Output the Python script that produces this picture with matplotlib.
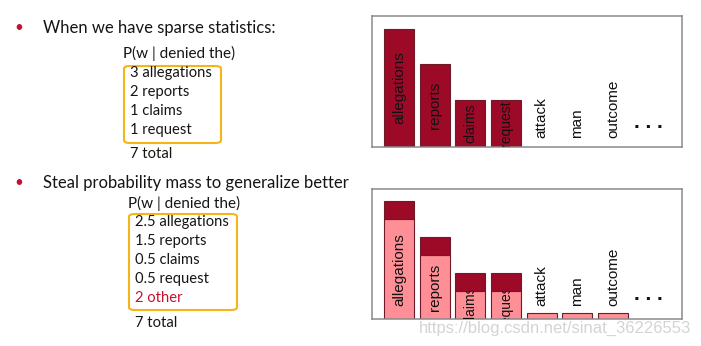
import matplotlib.pyplot as plt
from matplotlib.patches import FancyBboxPatch
from matplotlib.transforms import TransformedBbox

# ── data ─────────────────────────────────────────────────────────────────────
words = ["allegations", "reports", "claims", "request", "attack", "man", "outcome"]
seen_counts = [3, 2, 1, 1]             # P(w | denied the), sparse statistics
smoothed_counts = [2.5, 1.5, 0.5, 0.5]  # after stealing probability mass
other_share = 0.17                      # tiny share each unseen word receives
top_lines = ["3 allegations", "2 reports", "1 claims", "1 request"]
bottom_lines = ["2.5 allegations", "1.5 reports", "0.5 claims", "0.5 request"]
other_line = "2 other"
total_line = "7 total"
cond_label = "P(w | denied the)"
bullet_1 = "When we have sparse statistics:"
bullet_2 = "Steal probability mass to generalize better"
watermark = "https://blog.csdn.net/sinat_36226553"

DARK = "#9c0a28"
PINK = "#ff8f96"
EDGE = "#6e1a28"
ORANGE = "#f4b41a"
BULLET = "#c8102e"
TXT = "#151515"
LIFT = 0.3      # visual floor under the counted bars
YMAX = 3.65

W, H = 701, 346
fig = plt.figure(figsize=(W / 100, H / 100), dpi=100)
plt.rcParams["font.family"] = ["Lato", "DejaVu Sans"]


def fx(px):
    return px / W


def fy(py):
    return 1 - py / H


# ── left-hand text ───────────────────────────────────────────────────────────
def text_block(y_bullet, title, y_cond, lines, y_lines, box, y_total, extra=None):
    fig.text(fx(19), fy(y_bullet), "•", color=BULLET, fontsize=11, ha="center", va="center")
    fig.text(fx(43), fy(y_bullet), title, color=TXT, fontsize=12, va="center")
    fig.text(fx(box[0] - 1), fy(y_cond), cond_label, color=TXT, fontsize=11, va="center")
    for i, line in enumerate(lines):
        fig.text(fx(box[0] + 6), fy(y_lines + 19 * i), line, color=TXT, fontsize=10.6,
                 va="center")
    if extra is not None:
        fig.text(fx(box[0] + 6), fy(y_lines + 19 * len(lines)), extra, color=BULLET,
                 fontsize=10.6, va="center")
    x0, y0, x1, y1 = box
    fig.patches.append(FancyBboxPatch((fx(x0), fy(y1)), fx(x1 - x0), fy(y0) - fy(y1),
                                      boxstyle="round,pad=0,rounding_size=0.008",
                                      transform=fig.transFigure, fill=False,
                                      edgecolor=ORANGE, linewidth=1.5))
    fig.text(fx(box[0] + 6), fy(y_total), total_line, color=TXT, fontsize=10.6, va="center")


text_block(28, bullet_1, 53, top_lines, 73, (124, 66, 221, 143), 154)
text_block(183, bullet_2, 203, bottom_lines, 222, (129, 214, 237, 310), 323, extra=other_line)


# ── bar panels ───────────────────────────────────────────────────────────────
def panel(rect, counts, full_counts=None, label_floor=0.25):
    ax = fig.add_axes(rect)
    ax.set_xlim(-0.76, 7.93)
    ax.set_ylim(0, YMAX)
    ax.set_xticks([])
    ax.set_yticks([])
    for s in ax.spines.values():
        s.set_color("#8a8a8a")
        s.set_linewidth(1.1)
    n = len(counts)
    for i, word in enumerate(words):
        if i < n:
            h = counts[i] + LIFT
            color = PINK if full_counts is not None else DARK
            bar = ax.bar(i, h, width=0.84, color=color, edgecolor=EDGE, linewidth=0.8)[0]
            if full_counts is not None:
                ax.bar(i, full_counts[i] - counts[i], bottom=h, width=0.84,
                       color=DARK, edgecolor=EDGE, linewidth=0.8)
            size = 11 if h > 1.5 else 10
            t = ax.text(i, h / 2, word, rotation=90, ha="center", va="center",
                        fontsize=size, family="Liberation Sans", color="#111", clip_on=True)
            t.set_clip_box(TransformedBbox(bar.get_bbox(), ax.transData))
        else:
            if full_counts is not None:
                ax.bar(i, other_share, width=0.84, color=PINK, edgecolor=EDGE, linewidth=0.8)
            ax.text(i, label_floor, word, rotation=90, ha="center", va="bottom",
                    fontsize=11, family="Liberation Sans", color="#111")
    ax.text(7.0, 0.53, ". . .", ha="center", va="baseline", fontsize=15,
            fontweight="bold", family="Liberation Sans", color="#111")
    return ax


panel([fx(372), fy(147), fx(682 - 372), (147 - 16) / H], seen_counts)
panel([fx(372), fy(319), fx(682 - 372), (319 - 189) / H], smoothed_counts,
      full_counts=seen_counts, label_floor=0.36)

fig.text(fx(555), fy(328), watermark, color="#d4d4d4", fontsize=12,
         family="Liberation Sans", ha="center", va="center")

fig.savefig("out.png", dpi=100)
